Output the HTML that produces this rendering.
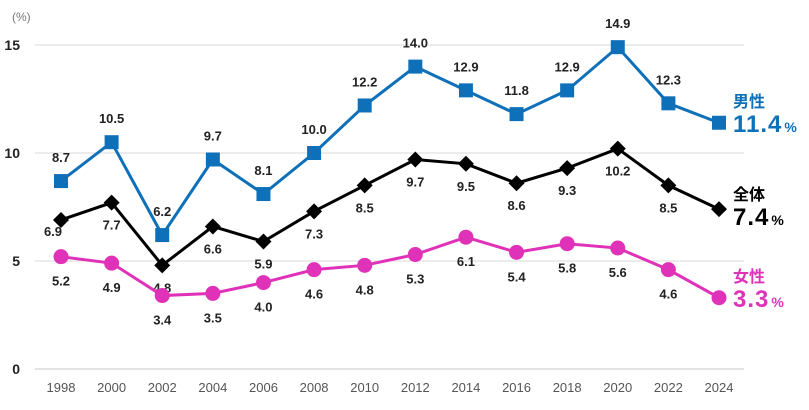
<!DOCTYPE html>
<html><head><meta charset="utf-8"><style>
body{margin:0;background:#fff;}
svg{display:block;font-family:"Liberation Sans","Noto Sans CJK JP",sans-serif;}
</style></head><body>
<svg id="c" width="809" height="410"></svg>
<script>
const years=["1998","2000","2002","2004","2006","2008","2010","2012","2014","2016","2018","2020","2022","2024"];
const men=[8.7,10.5,6.2,9.7,8.1,10.0,12.2,14.0,12.9,11.8,12.9,14.9,12.3,11.4];
const total=[6.9,7.7,4.8,6.6,5.9,7.3,8.5,9.7,9.5,8.6,9.3,10.2,8.5,7.4];
const women=[5.2,4.9,3.4,3.5,4.0,4.6,4.8,5.3,6.1,5.4,5.8,5.6,4.6,3.3];
const yTicks=[0,5,10,15];
const NS="http://www.w3.org/2000/svg";
const svg=document.getElementById('c');
const x=i=>61+i*(719-61)/(years.length-1);
const y=v=>369-v*21.6;
function el(t,a,p){const e=document.createElementNS(NS,t);for(const k in a)e.setAttribute(k,a[k]);(p||svg).appendChild(e);return e;}
function tx(s,a){const e=el('text',a);e.textContent=s;return e;}
yTicks.forEach(t=>{
 const g=el('line',{x1:35,x2:744,y1:y(t),y2:y(t),stroke:t===0?'#c8c8c8':'#d9d9d9','stroke-width':1});
 
 
 const l=tx(String(t),{x:20,y:y(t)+5,'text-anchor':'end','font-size':14,'font-weight':'bold',fill:'#222'});
 
 
});
const u=tx('(%)',{x:12,y:21,'font-size':12,fill:'#777'});


years.forEach((yr,i)=>{
 const t=tx(yr,{x:x(i),y:392,'text-anchor':'middle','font-size':13,fill:'#555'});
 
 
});
function series(vals,color,shape,name,off){
 const pts=vals.map((v,i)=>x(i)+','+y(v)).join(' ');
 const pl=el('polyline',{points:pts,fill:'none',stroke:color,'stroke-width':3});
 
 
 vals.forEach((v,i)=>{
  const cx=x(i),cy=y(v);let m;
  if(shape==='sq')m=el('rect',{x:cx-7,y:cy-7,width:14,height:14,fill:color});
  else if(shape==='dia')m=el('polygon',{points:`${cx},${cy-8} ${cx+8},${cy} ${cx},${cy+8} ${cx-8},${cy}`,fill:color});
  else m=el('circle',{cx:cx,cy:cy,r:7.5,fill:color});
  
  
  if(i<vals.length-1){
   let lx=cx,ly=cy+off;
   if(name==='total'&&i===0){lx=cx-8;ly=cy+16;}
   const l=tx(v.toFixed(1),{x:lx,y:ly,'text-anchor':'middle','font-size':13,'font-weight':'bold',fill:'#222'});
   
   
  }
 });
}
series(men,'#0e70b9','sq','men',-19);
series(total,'#000','dia','total',27);
series(women,'#e032b9','circ','women',29);
function endLabel(t1,v,color,ty,name){
 const a=tx(t1,{x:733,y:ty,'font-size':16,'font-weight':'bold',fill:color});
 
 
 const b=el('text',{x:733,y:ty+25,fill:color,'font-weight':'bold'});
 
 
 const s1=el('tspan',{'font-size':24,'letter-spacing':1},b);s1.textContent=v.toFixed(1);
 const s2=el('tspan',{'font-size':14,dx:2},b);s2.textContent='%';
}
endLabel('男性',men[men.length-1],'#0e70b9',107,'men');
endLabel('全体',total[total.length-1],'#000',200,'total');
endLabel('女性',women[women.length-1],'#e032b9',282,'women');
</script>
</body></html>
